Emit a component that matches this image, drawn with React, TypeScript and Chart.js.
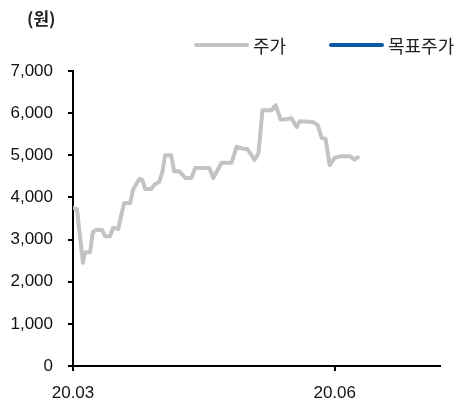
import React, { useEffect, useRef } from "react";
import { Chart, registerables } from "chart.js";

Chart.register(...registerables);

// Trading-day offsets from 2020-03-01 and closing prices (원)
const days = [
  0, 1.4, 3.5, 4.2, 6.0, 7.0, 8.1, 10.2, 11.3, 13.0, 14.1, 15.9, 16.9, 18.0, 20.1,
  21.1, 23.3, 24.3, 25.4, 27.5, 28.6, 30.3, 31.4, 32.4, 34.5, 35.6, 37.4, 39.5,
  41.6, 43.0, 47.9, 49.3, 52.2, 55.7, 57.5, 60.3, 61.3, 63.8, 65.2, 66.6, 69.8,
  71.2, 73.0, 74.4, 76.8, 78.6, 79.7, 84.2, 86.0, 87.4, 88.8, 90.2, 92.0, 94.5,
  97.3, 99.0, 100.1,
];
const prices = [
  3750, 3720, 2450, 2700, 2700, 3180, 3230, 3230, 3080, 3080, 3280, 3250, 3560, 3870, 3870,
  4180, 4440, 4420, 4200, 4200, 4300, 4370, 4600, 5000, 5000, 4620, 4620, 4460,
  4460, 4700, 4700, 4460, 4820, 4820, 5200, 5150, 5150, 4890, 5050, 6070, 6070,
  6190, 5850, 5850, 5880, 5670, 5810, 5790, 5720, 5410, 5390, 4770, 4940, 4980,
  4980, 4900, 4950,
];
const targetPrices: { x: number; y: number }[] = [];

const xTickValues = [0, 92];
const xTickLabels = ["20.03", "20.06"];
const yTicks = [0, 1000, 2000, 3000, 4000, 5000, 6000, 7000];

const seriesNames = ["주가", "목표주가"];
const seriesColors = ["#c3c3c3", "#0b59a6"];
const unitLabel = "(원)";

const legendPlugin = {
  id: "customLegend",
  afterDraw(chart: any) {
    const ctx = chart.ctx;
    ctx.save();
    ctx.fillStyle = "#222";
    ctx.font = 'bold 17px "Noto Sans CJK KR"';
    ctx.textBaseline = "middle";
    ctx.textAlign = "left";
    ctx.fillText(unitLabel, 27, 19);

    const starts = [195, 330];
    chart.data.datasets.forEach((ds: any, i: number) => {
      const x0 = starts[i];
      ctx.strokeStyle = ds.borderColor;
      ctx.lineWidth = 4;
      ctx.lineCap = "round";
      ctx.beginPath();
      ctx.moveTo(x0 + 1, 45);
      ctx.lineTo(x0 + 52, 45);
      ctx.stroke();
      ctx.fillStyle = "#222";
      ctx.font = '18px "Noto Sans CJK KR"';
      ctx.fillText(ds.label, x0 + 58, 46);
    });
    ctx.restore();
  },
};

export default function App() {
  const ref = useRef<HTMLCanvasElement>(null);

  useEffect(() => {
    if (!ref.current) return;
    const chart = new Chart(ref.current, {
      type: "line",
      data: {
        datasets: [
          {
            label: seriesNames[0],
            data: prices.map((p, i) => ({ x: days[i], y: p })),
            borderColor: seriesColors[0],
            backgroundColor: seriesColors[0],
            borderWidth: 4,
            pointRadius: 0,
            tension: 0,
            borderJoinStyle: "round",
            borderCapStyle: "round",
          },
          {
            label: seriesNames[1],
            data: targetPrices,
            borderColor: seriesColors[1],
            backgroundColor: seriesColors[1],
            borderWidth: 4,
            pointRadius: 0,
          },
        ],
      },
      options: {
        responsive: false,
        animation: false,
        layout: { padding: { left: 0, right: 21, top: 71, bottom: 0 } },
        plugins: {
          legend: { display: false },
          title: { display: false },
          tooltip: { enabled: false },
        },
        scales: {
          x: {
            type: "linear",
            min: 0,
            max: 129,
            afterBuildTicks: (axis: any) => {
              axis.ticks = xTickValues.map((v) => ({ value: v }));
            },
            afterFit: (axis: any) => {
              axis.height = 39;
            },
            ticks: {
              autoSkip: false,
              maxRotation: 0,
              padding: 12,
              color: "#111",
              font: { family: '"Liberation Sans", Arial', size: 17 },
              callback: (value: any) => {
                const idx = xTickValues.indexOf(Number(value));
                return idx >= 0 ? xTickLabels[idx] : "";
              },
            },
            grid: {
              display: true,
              drawOnChartArea: false,
              drawTicks: true,
              tickLength: 5,
              color: "#000",
              lineWidth: 2,
            },
            border: { display: true, color: "#000", width: 2 },
          },
          y: {
            min: 0,
            max: 7000,
            afterBuildTicks: (axis: any) => {
              axis.ticks = yTicks.map((v) => ({ value: v }));
            },
            afterFit: (axis: any) => {
              axis.width = 73;
            },
            ticks: {
              padding: 15,
              color: "#111",
              font: { family: '"Liberation Sans", Arial', size: 17 },
              callback: (value: any) => Number(value).toLocaleString("en-US"),
            },
            grid: {
              display: true,
              drawOnChartArea: false,
              drawTicks: true,
              tickLength: 5,
              color: "#000",
              lineWidth: 2,
            },
            border: { display: true, color: "#000", width: 2 },
          },
        },
      },
      plugins: [legendPlugin],
    });
    return () => chart.destroy();
  }, []);

  return (
    <canvas
      ref={ref}
      width={461}
      height={405}
      style={{ position: "absolute", left: 0, top: 0 }}
    />
  );
}
